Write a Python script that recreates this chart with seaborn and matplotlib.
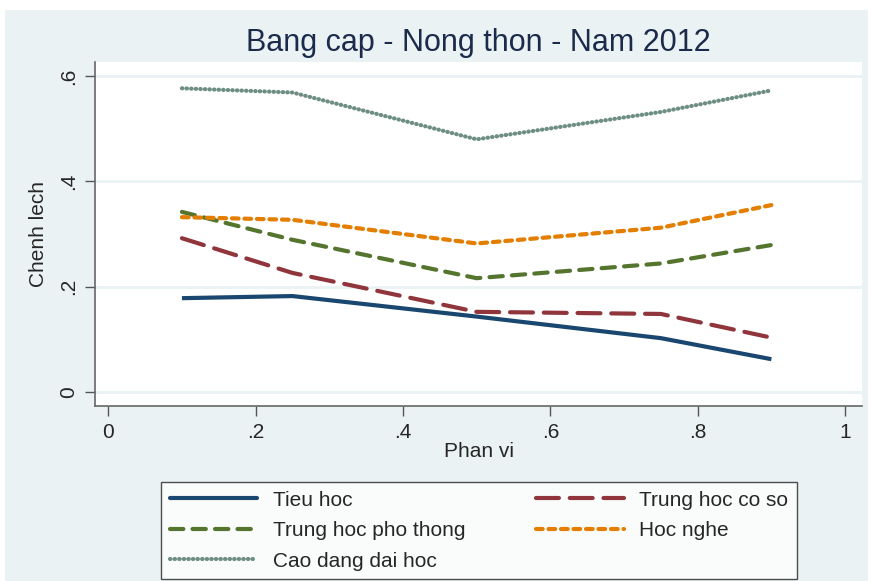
import numpy as np
import pandas as pd
import matplotlib
matplotlib.use("Agg")
import matplotlib.pyplot as plt
from matplotlib.patches import Rectangle
import seaborn as sns

# Data
phan_vi = [0.1, 0.25, 0.5, 0.75, 0.9]
tieu_hoc = [0.178, 0.182, 0.143, 0.102, 0.062]
trung_hoc_co_so = [0.292, 0.226, 0.152, 0.148, 0.103]
trung_hoc_pho_thong = [0.342, 0.289, 0.216, 0.244, 0.279]
hoc_nghe = [0.332, 0.327, 0.282, 0.312, 0.355]
cao_dang_dai_hoc = [0.577, 0.569, 0.480, 0.532, 0.573]

series_names = ["Tieu hoc", "Trung hoc co so", "Trung hoc pho thong",
                "Hoc nghe", "Cao dang dai hoc"]
series_values = [tieu_hoc, trung_hoc_co_so, trung_hoc_pho_thong,
                 hoc_nghe, cao_dang_dai_hoc]

x_ticks = [0, 0.2, 0.4, 0.6, 0.8, 1.0]
x_tick_labels = ["0", ".2", ".4", ".6", ".8", "1"]
y_ticks = [0, 0.2, 0.4, 0.6]
y_tick_labels = ["0", ".2", ".4", ".6"]

df = pd.DataFrame({
    "Phan vi": np.tile(phan_vi, len(series_names)),
    "Chenh lech": np.concatenate(series_values),
    "Bang cap": np.repeat(series_names, len(phan_vi)),
})

# Stata s2color-like styling
palette = {
    "Tieu hoc": "#1a476f",
    "Trung hoc co so": "#90353b",
    "Trung hoc pho thong": "#55752f",
    "Hoc nghe": "#e37e00",
    "Cao dang dai hoc": "#6e8e84",
}
dashes = {
    "Tieu hoc": "",
    "Trung hoc co so": (5.5, 2.6),
    "Trung hoc pho thong": (3.2, 2.2),
    "Hoc nghe": (1.6, 1.4),
    "Cao dang dai hoc": (0.1, 1.0),
}
bg = "#eaf2f3"

sns.set_theme(style="white")
plt.rcParams["font.family"] = ["Liberation Sans", "DejaVu Sans"]

fig = plt.figure(figsize=(8.71, 5.81), dpi=100)
fig.patch.set_facecolor("white")
fig.patches.append(Rectangle((5 / 871, 0), 863 / 871, 571 / 581,
                             transform=fig.transFigure, facecolor=bg,
                             edgecolor="none", zorder=-10))

ax = fig.add_axes([95 / 871, 1 - 406 / 581, 767 / 871, 344 / 581])
ax.set_facecolor("white")

sns.lineplot(data=df, x="Phan vi", y="Chenh lech", hue="Bang cap",
             style="Bang cap", palette=palette, dashes=dashes,
             hue_order=series_names, style_order=series_names,
             linewidth=3.0, ax=ax, legend=False)
for line in ax.get_lines():
    line.set_dash_capstyle("round")
    line.set_solid_capstyle("butt")

ax.set_xlim(-0.018, 1.023)
ax.set_ylim(-0.027, 0.627)
ax.set_xticks(x_ticks)
ax.set_xticklabels(x_tick_labels)
ax.set_yticks(y_ticks)
ax.set_yticklabels(y_tick_labels, rotation=90, va="center")
ax.tick_params(axis="both", which="major", labelsize=15, length=7,
               width=1, color="#555555", direction="out", pad=5,
               bottom=True, left=True)
ax.yaxis.grid(True, color=bg, linewidth=2)
ax.xaxis.grid(False)
ax.set_axisbelow(True)

for side in ["top", "right"]:
    ax.spines[side].set_visible(False)
for side in ["left", "bottom"]:
    ax.spines[side].set_color("#666666")
    ax.spines[side].set_linewidth(1.2)

ax.set_xlabel("Phan vi", fontsize=15, labelpad=0)
ax.set_ylabel("Chenh lech", fontsize=15, labelpad=8)
ax.set_title("Bang cap - Nong thon - Nam 2012", fontsize=22,
             color="#1c2a4b", pad=8)

# legend laid out row by row like Stata (matplotlib fills columns first)
handles = {}
for name in series_names:
    handles[name] = plt.Line2D([], [], color=palette[name], linewidth=3.0,
                               dash_capstyle="round",
                               linestyle=(0, dashes[name]) if dashes[name] else "-")
order = ["Tieu hoc", "Trung hoc pho thong", "Cao dang dai hoc",
         "Trung hoc co so", "Hoc nghe"]
leg = fig.legend([handles[n] for n in order], order, ncol=2,
                 loc="upper left", mode="expand",
                 bbox_to_anchor=(161 / 871, 0, 636 / 871, 99 / 581),
                 fontsize=15, frameon=True, fancybox=False,
                 handlelength=4.2, handletextpad=0.75, columnspacing=1.8,
                 labelspacing=0.55, borderpad=0.42, borderaxespad=0)
leg.get_frame().set_edgecolor("#222222")
leg.get_frame().set_linewidth(1.0)
leg.get_frame().set_facecolor("white")

fig.savefig("out.png", dpi=100, facecolor=fig.get_facecolor())
